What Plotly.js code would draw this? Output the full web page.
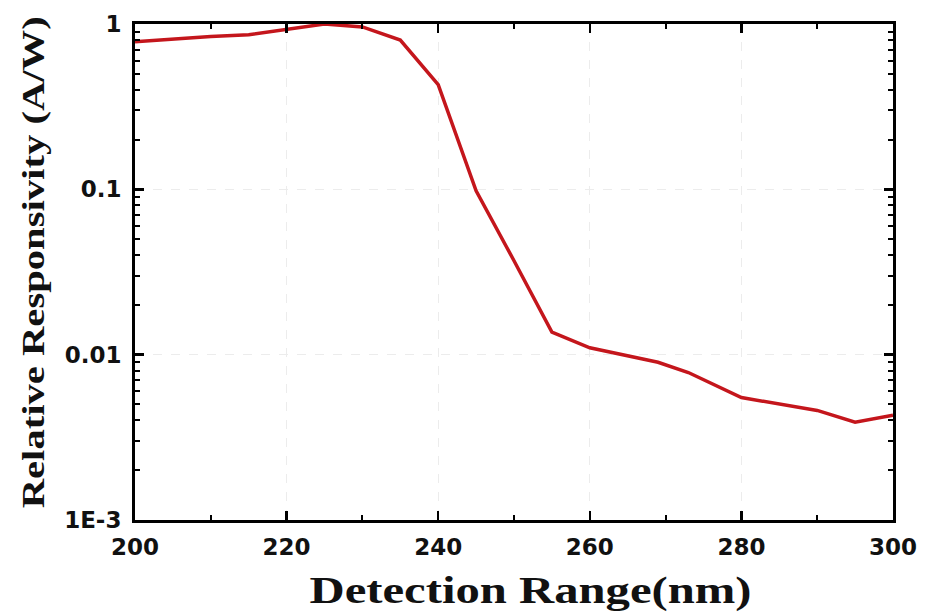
<!DOCTYPE html>
<html>
<head>
<meta charset="utf-8">
<script src="https://cdn.plot.ly/plotly-3.0.1.min.js"></script>
<style>html,body{margin:0;padding:0;background:#fff;}#chart{width:930px;height:613px;}</style>
</head>
<body>
<div id="chart"></div>
<script>
const wavelength = [200, 210, 215, 220, 225, 230, 235, 240, 245, 250, 255, 260, 269, 273, 280, 290, 295, 300];
const responsivity = [0.78, 0.84, 0.86, 0.93, 1.0, 0.96, 0.80, 0.43, 0.098, 0.037, 0.0137, 0.011, 0.009, 0.0078, 0.0055, 0.0046, 0.0039, 0.0043];
const yTickVals = [0.001, 0.01, 0.1, 1];
const yTickText = ['1E-3', '0.01', '0.1', '1'];
const xTickVals = [200, 220, 240, 260, 280, 300];
const xTitle = 'Detection Range(nm)';
const yTitle = 'Relative Responsivity (A/W)';

const trace = {
  x: wavelength, y: responsivity, type: 'scatter', mode: 'lines',
  line: {color: '#c4161c', width: 3.5}
};
const tickFont = {family: 'DejaVu Sans, sans-serif', size: 23, color: '#111', weight: 'bold'};
const titleFont = {family: 'Liberation Serif, Times New Roman, serif', color: '#111', weight: 'bold'};
const layout = {
  width: 930, height: 613,
  margin: {l: 135, r: 37, t: 24, b: 93},
  paper_bgcolor: '#fff', plot_bgcolor: '#fff',
  showlegend: false,
  xaxis: {
    range: [200, 300], tickmode: 'array', tickvals: xTickVals,
    ticks: 'inside', ticklen: 9, tickwidth: 2.5, tickcolor: '#000',
    showline: true, linewidth: 3, linecolor: '#000', mirror: 'ticks',
    showgrid: true, gridcolor: '#ececec', griddash: 'dash', gridwidth: 1,
    zeroline: false, ticklabelstandoff: 4,
    minor: {dtick: 10, ticks: 'inside', ticklen: 5, tickwidth: 2, tickcolor: '#000', showgrid: false},
    tickfont: tickFont
  },
  yaxis: {
    type: 'log', range: [-3, 0], tickmode: 'array', tickvals: yTickVals, ticktext: yTickText,
    ticks: 'inside', ticklen: 9, tickwidth: 2.5, tickcolor: '#000',
    showline: true, linewidth: 3, linecolor: '#000', mirror: 'ticks',
    showgrid: true, gridcolor: '#ececec', griddash: 'dash', gridwidth: 1,
    zeroline: false, ticklabelstandoff: 6,
    minor: {dtick: 'D1', ticks: 'inside', ticklen: 5, tickwidth: 2, tickcolor: '#000', showgrid: false},
    tickfont: tickFont
  },
  annotations: [
    {text: xTitle, xref: 'paper', yref: 'paper', x: 0.5224, y: -0.143, xanchor: 'center', yanchor: 'middle',
     showarrow: false, font: Object.assign({size: 38}, titleFont)},
    {text: yTitle, xref: 'paper', yref: 'paper', x: -0.1346, y: 0.52, xanchor: 'center', yanchor: 'middle',
     textangle: -90, showarrow: false, font: Object.assign({size: 32}, titleFont)}
  ]
};
Plotly.newPlot('chart', [trace], layout, {displayModeBar: false, staticPlot: true}).then(function () {
  const texts = document.querySelectorAll('.annotation-text');
  const lens = [442, 492];
  texts.forEach(function (t, i) {
    t.setAttribute('textLength', lens[i]);
    t.setAttribute('lengthAdjust', 'spacingAndGlyphs');
  });
});
</script>
</body>
</html>
